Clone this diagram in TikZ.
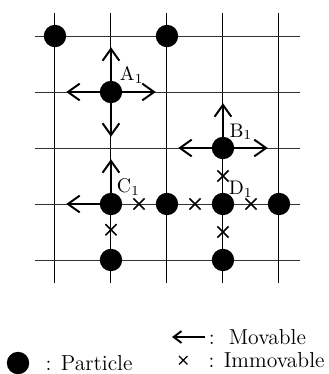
\documentclass[tikz,border=0pt]{standalone}
\usepackage{amsmath}
\usepackage{tikz}
\usetikzlibrary{arrows.meta,shapes.misc,positioning}

\tikzset{
  particle/.style={circle,fill=black,inner sep=0pt,minimum size=0.4cm},
  moves/.style={line width=1.3pt,-{Straight Barb[length=6pt,width=8.5pt,line width=1pt]}},
  blocked/.style={cross out,draw=black,line width=0.8pt,inner sep=0pt,minimum size=0.17cm},
  tag/.style={font=\normalsize,inner sep=0pt},
  legtext/.style={font=\fontsize{11}{13}\selectfont,inner sep=0pt,anchor=west}
}

\begin{document}
\begin{tikzpicture}
	\useasboundingbox (-0.982,-2.036) rectangle (4.893,4.643);
	% Draw the lattice
	\foreach \i in {0,...,4} {
		\draw [line width=0.5pt] (\i,-0.41) -- (\i,4.41);
		\draw [line width=0.5pt,black!80] (-0.36,\i) -- (4.38,\i);
	}
	% Particles on the lattice sites
	\node [particle] (p1) at (0,4) {};
	\node [particle] (p2) at (2,4) {};
	\node [particle] (a1) at (1,3) {};
	\node [particle] (b1) at (3,2) {};
	\node [particle] (c1) at (1,1) {};
	\node [particle] (p3) at (2,1) {};
	\node [particle] (d1) at (3,1) {};
	\node [particle] (p4) at (4,1) {};
	\node [particle] (p5) at (1,0) {};
	\node [particle] (p6) at (3,0) {};
	% Labels
	\node [tag] at (1.37,3.30) {A$_1$};
	\node [tag] at (3.32,2.29) {B$_1$};
	\node [tag] at (1.31,1.30) {C$_1$};
	\node [tag] at (3.32,1.27) {D$_1$};
	% Allowed moves
	\draw [moves] (a1.center) -- (1,3.8);
	\draw [moves] (a1.center) -- (0.2,3);
	\draw [moves] (a1.center) -- (1.8,3);
	\draw [moves] (a1.center) -- (1,2.2);
	\draw [moves] (b1.center) -- (3,2.8);
	\draw [moves] (b1.center) -- (2.2,2);
	\draw [moves] (b1.center) -- (3.8,2);
	\draw [moves] (c1.center) -- (1,1.8);
	\draw [moves] (c1.center) -- (0.2,1);
	% Blocked moves
	\node [blocked] (x1) at (1.5,1) {};
	\node [blocked] (x2) at (2.5,1) {};
	\node [blocked] (x3) at (3.5,1) {};
	\node [blocked] (x4) at (1,0.54) {};
	\node [blocked] (x5) at (3,1.5) {};
	\node [blocked] (x6) at (3,0.5) {};
	% Legend
	\node [particle] (lp) at (-0.66,-1.84) {};
	\node [legtext,right=0.28cm of lp] (lpt) {: Particle};
	\coordinate (la) at (2.09,-1.375);
	\coordinate (lb) at (2.68,-1.375);
	\draw [line width=1.1pt,-{Straight Barb[length=4pt,width=6pt,line width=1pt]}] (lb) -- (la);
	\node [legtext,right=0.06cm of lb] (lat) {:\ \ Movable};
	\node [blocked,minimum size=0.13cm,line width=0.6pt] (lx) at (2.29,-1.79) {};
	\node [legtext,right=0.37cm of lx] (lxt) {: Immovable};
\end{tikzpicture}
\end{document}
